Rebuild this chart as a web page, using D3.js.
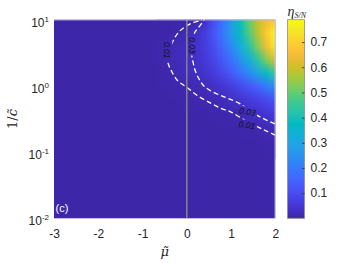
<!DOCTYPE html>
<html lang="en">
<head>
<meta charset="UTF-8">
<title>eta S/N map</title>
<script src="https://d3js.org/d3.v7.min.js"></script>
<style>
  body { margin: 0; background: #fff; }
  svg { display: block; }
  .axis text { font: 12px "Liberation Sans", Arial, sans-serif; fill: #262626; }
  .math { font-family: "Liberation Serif", "DejaVu Serif", serif; font-style: italic; fill: #262626; }
  .accent { font-family: "DejaVu Serif", serif; font-style: italic; fill: #262626; }
  .contour { fill: none; stroke: #fff; stroke-width: 1.3px; stroke-dasharray: 5,3; }
  .clabel { font: italic 8.5px "Liberation Sans", Arial, sans-serif; fill: #111; }
</style>
</head>
<body>
<svg width="350" height="263"></svg>
<script>
// axis ticks
const muTicks = [-3, -2, -1, 0, 1, 2];
const cTicks = [0.01, 0.1, 1, 10];
const cTickExp = ["-2", "-1", "0", "1"];
const barTicks = [0.1, 0.2, 0.3, 0.4, 0.5, 0.6, 0.7];
const barMax = 0.789;

const gridMu = [-0.6, -0.4, -0.2, 0.0, 0.2, 0.4, 0.6, 0.8, 1.0, 1.2, 1.4, 1.6, 1.8, 2.0];
const gridLogC = [1.0, 0.8, 0.6, 0.4, 0.2, 0.0, -0.2, -0.4, -0.6, -0.8, -1.0];
const eta = [
  [0, 0, 0.001, 0.002, 0.006, 0.028, 0.10, 0.18, 0.27, 0.39, 0.50, 0.59, 0.65, 0.69],
  [0.001, 0.004, 0.009, 0.018, 0.032, 0.065, 0.12, 0.19, 0.28, 0.38, 0.48, 0.58, 0.69, 0.785],
  [0.005, 0.011, 0.017, 0.024, 0.037, 0.06, 0.10, 0.16, 0.23, 0.32, 0.42, 0.53, 0.65, 0.76],
  [0.006, 0.012, 0.018, 0.025, 0.036, 0.055, 0.085, 0.13, 0.18, 0.25, 0.33, 0.43, 0.53, 0.63],
  [0.004, 0.009, 0.015, 0.021, 0.028, 0.04, 0.06, 0.09, 0.13, 0.18, 0.24, 0.30, 0.38, 0.46],
  [0.002, 0.004, 0.007, 0.01, 0.015, 0.022, 0.032, 0.046, 0.065, 0.09, 0.12, 0.155, 0.20, 0.25],
  [0.001, 0.002, 0.003, 0.005, 0.007, 0.0095, 0.014, 0.022, 0.032, 0.045, 0.06, 0.076, 0.095, 0.12],
  [0, 0.001, 0.001, 0.002, 0.003, 0.004, 0.005, 0.007, 0.009, 0.013, 0.025, 0.036, 0.05, 0.065],
  [0, 0, 0, 0.001, 0.001, 0.001, 0.002, 0.002, 0.003, 0.004, 0.006, 0.01, 0.017, 0.028],
  [0, 0, 0, 0, 0, 0, 0.001, 0.001, 0.001, 0.002, 0.003, 0.004, 0.006, 0.009],
  [0, 0, 0, 0, 0, 0, 0, 0, 0, 0.001, 0.001, 0.001, 0.002, 0.003]
];

// contour lines [mu, log10(1/c)]
const contour01 = [[0.40, 1.05], [0.321, 0.995], [0.095, 0.943], [-0.063, 0.882], [-0.198, 0.80], [-0.311, 0.678],
  [-0.39, 0.542], [-0.436, 0.391], [-0.40, 0.30], [-0.334, 0.21], [-0.221, 0.089], [0.005, -0.024],
  [0.28, -0.163], [0.55, -0.263], [0.77, -0.339], [1.0, -0.395], [1.38, -0.545], [1.75, -0.666], [2.05, -0.76]];
const contour03 = [[0.43, 1.05], [0.389, 0.995], [0.276, 0.89], [0.186, 0.814], [0.129, 0.693], [0.107, 0.572],
  [0.111, 0.467], [0.141, 0.361], [0.186, 0.24], [0.265, 0.119], [0.366, 0.014], [0.509, -0.062],
  [0.735, -0.137], [0.925, -0.187], [1.187, -0.263], [1.428, -0.379], [1.715, -0.489], [2.05, -0.59]];
const labelText = ["0.01", "0.03", "0.03", "0.01"];
const labelMu = [-0.44, 0.12, 1.37, 1.36];
const labelLogC = [0.54, 0.61, -0.39, -0.59];

// parula
const parula = ["#3e26a8", "#4432cb", "#4741e5", "#4852f4", "#4563fd", "#3875fe", "#2e87f7", "#2797eb",
  "#20a5e3", "#12b1d6", "#02bac3", "#24c1af", "#37c897", "#57cc7a", "#81cc59", "#abc739",
  "#d1bf27", "#efba36", "#fec338", "#fad62d", "#f5e924", "#f9fb14"];

const svg = d3.select("svg"),
    margin = { top: 19.7, left: 54 },
    width = 221.3,
    height = 198.6,
    g = svg.append("g").attr("transform", "translate(" + margin.left + "," + margin.top + ")");

const x = d3.scaleLinear().domain([-3, 2]).range([0, width]);
const y = d3.scaleLog().domain([0.01, 10]).range([height, 0]);
const color = d3.scaleSequential(d3.piecewise(d3.interpolateRgb, parula)).domain([0, barMax]);

const defs = svg.append("defs");
defs.append("clipPath").attr("id", "plotclip")
    .append("rect").attr("width", width).attr("height", height);

// background (eta = 0)
g.append("rect").attr("width", width).attr("height", height).attr("fill", color(0));

// heat map: one pixel per grid cell, smoothed by the browser when scaled
const canvas = document.createElement("canvas");
canvas.width = gridMu.length;
canvas.height = gridLogC.length;
const ctx = canvas.getContext("2d");
eta.forEach((row, i) => row.forEach((v, j) => {
    ctx.fillStyle = color(v);
    ctx.fillRect(j, i, 1, 1);
}));
const dMu = gridMu[1] - gridMu[0], dL = gridLogC[0] - gridLogC[1];
const x0 = x(gridMu[0] - dMu / 2), x1 = x(gridMu[gridMu.length - 1] + dMu / 2);
const y0 = y(Math.pow(10, gridLogC[0] + dL / 2)), y1 = y(Math.pow(10, gridLogC[gridLogC.length - 1] - dL / 2));
g.append("g").attr("clip-path", "url(#plotclip)")
  .append("image")
    .attr("href", canvas.toDataURL())
    .attr("x", x0).attr("y", y0)
    .attr("width", x1 - x0).attr("height", y1 - y0)
    .attr("preserveAspectRatio", "none");

// contour labels
const labelAngle = [90, 90, 9, 8];
const labels = g.append("g");
labelText.forEach((t, i) => {
    labels.append("text")
        .attr("class", "clabel")
        .attr("text-anchor", "middle")
        .attr("dy", "0.35em")
        .attr("transform", "translate(" + x(labelMu[i]) + "," + y(Math.pow(10, labelLogC[i])) + ") rotate(" + labelAngle[i] + ")")
        .text(t);
});

// gap in the dashed lines under the labels
const mask = defs.append("mask").attr("id", "lblmask").attr("maskUnits", "userSpaceOnUse")
    .attr("x", -margin.left).attr("y", -margin.top).attr("width", 350).attr("height", 263);
mask.append("rect").attr("x", -margin.left).attr("y", -margin.top).attr("width", 350).attr("height", 263).attr("fill", "#fff");
labels.selectAll("text").each(function() {
    const b = this.getBBox();
    mask.append("rect")
        .attr("x", b.x - 1.5).attr("y", b.y)
        .attr("width", b.width + 3).attr("height", b.height)
        .attr("transform", d3.select(this).attr("transform"))
        .attr("fill", "#000");
});

const line = d3.line()
    .x(d => x(d[0]))
    .y(d => y(Math.pow(10, d[1])))
    .curve(d3.curveCatmullRom);

const cg = g.append("g").attr("clip-path", "url(#plotclip)")
  .append("g").attr("mask", "url(#lblmask)");
[contour01, contour03].forEach(c => {
    cg.append("path").attr("class", "contour").attr("d", line(c));
});
labels.raise();

// mu = 0 line
g.append("line")
    .attr("x1", x(0)).attr("x2", x(0))
    .attr("y1", 0).attr("y2", height)
    .attr("stroke", "#808080")
    .attr("stroke-width", 1.6);

// box edges
g.append("path")
    .attr("d", "M0,0.3H" + (width - 0.3) + "V" + height)
    .attr("fill", "none")
    .attr("stroke", "#c9c4e6")
    .attr("stroke-width", 0.8);

g.append("text")
    .attr("x", 1.5).attr("y", height - 6)
    .attr("fill", "#fff")
    .style("font", "11px 'Liberation Sans', Arial, sans-serif")
    .text("(c)");

// X axis
g.append("g")
    .attr("class", "axis")
    .attr("transform", "translate(0," + height + ")")
    .call(d3.axisBottom(x).tickValues(muTicks).tickSize(0).tickPadding(11).tickFormat(d => String(d)))
    .call(a => a.select(".domain").remove())
    .call(a => a.attr("font-family", null).attr("font-size", null));

// Y axis
g.append("g")
    .attr("class", "axis")
    .call(d3.axisLeft(y).tickValues(cTicks).tickSize(0).tickPadding(5))
    .call(a => a.select(".domain").remove())
    .call(a => a.attr("font-family", null).attr("font-size", null))
    .selectAll(".tick text")
    .each(function(d, i) {
        const t = d3.select(this).text(null).attr("dy", "0.55em");
        t.append("tspan").text("10");
        t.append("tspan").attr("dy", -5).style("font-size", "8px").text(cTickExp[i]);
    });

// axis labels (combining tilde)
svg.append("text")
    .attr("class", "accent")
    .attr("x", margin.left + width / 2)
    .attr("y", 256)
    .attr("text-anchor", "middle")
    .style("font-size", "13px")
    .text("\u03bc\u0303");

const yl = svg.append("text")
    .attr("class", "accent")
    .attr("transform", "translate(17," + (margin.top + height / 2) + ") rotate(-90)")
    .attr("text-anchor", "middle")
    .style("font-size", "13px");
yl.append("tspan").style("font-style", "normal").text("1/");
yl.append("tspan").text("c\u0303");

// colorbar
const barX = 287.5, barW = 17;
const bar = svg.append("g").attr("transform", "translate(" + barX + "," + margin.top + ")");
const by = d3.scaleLinear().domain([0, barMax]).range([height, 0]);
const grad = defs.append("linearGradient").attr("id", "bargrad")
    .attr("x1", 0).attr("y1", 1).attr("x2", 0).attr("y2", 0);
parula.forEach((c, i) => {
    grad.append("stop").attr("offset", i / (parula.length - 1)).attr("stop-color", c);
});
bar.append("rect")
    .attr("width", barW).attr("height", height)
    .attr("fill", "url(#bargrad)")
    .attr("stroke", "#8c8c8c")
    .attr("stroke-width", 0.8);
bar.append("g")
    .attr("class", "axis")
    .attr("transform", "translate(" + barW + ",0)")
    .call(d3.axisRight(by).tickValues(barTicks).tickSizeInner(-2.5).tickSizeOuter(0).tickPadding(6).tickFormat(d3.format(".1f")))
    .call(a => a.select(".domain").remove())
    .call(a => a.attr("font-family", null).attr("font-size", null))
    .call(a => a.selectAll(".tick line").attr("stroke", "#404040"));

const bt = svg.append("text")
    .attr("class", "math")
    .attr("x", barX)
    .attr("y", 16)
    .style("font-size", "14px");
bt.append("tspan").text("\u03b7");
bt.append("tspan").attr("dy", 2).style("font-size", "8px").text("S/N");
</script>
</body>
</html>
